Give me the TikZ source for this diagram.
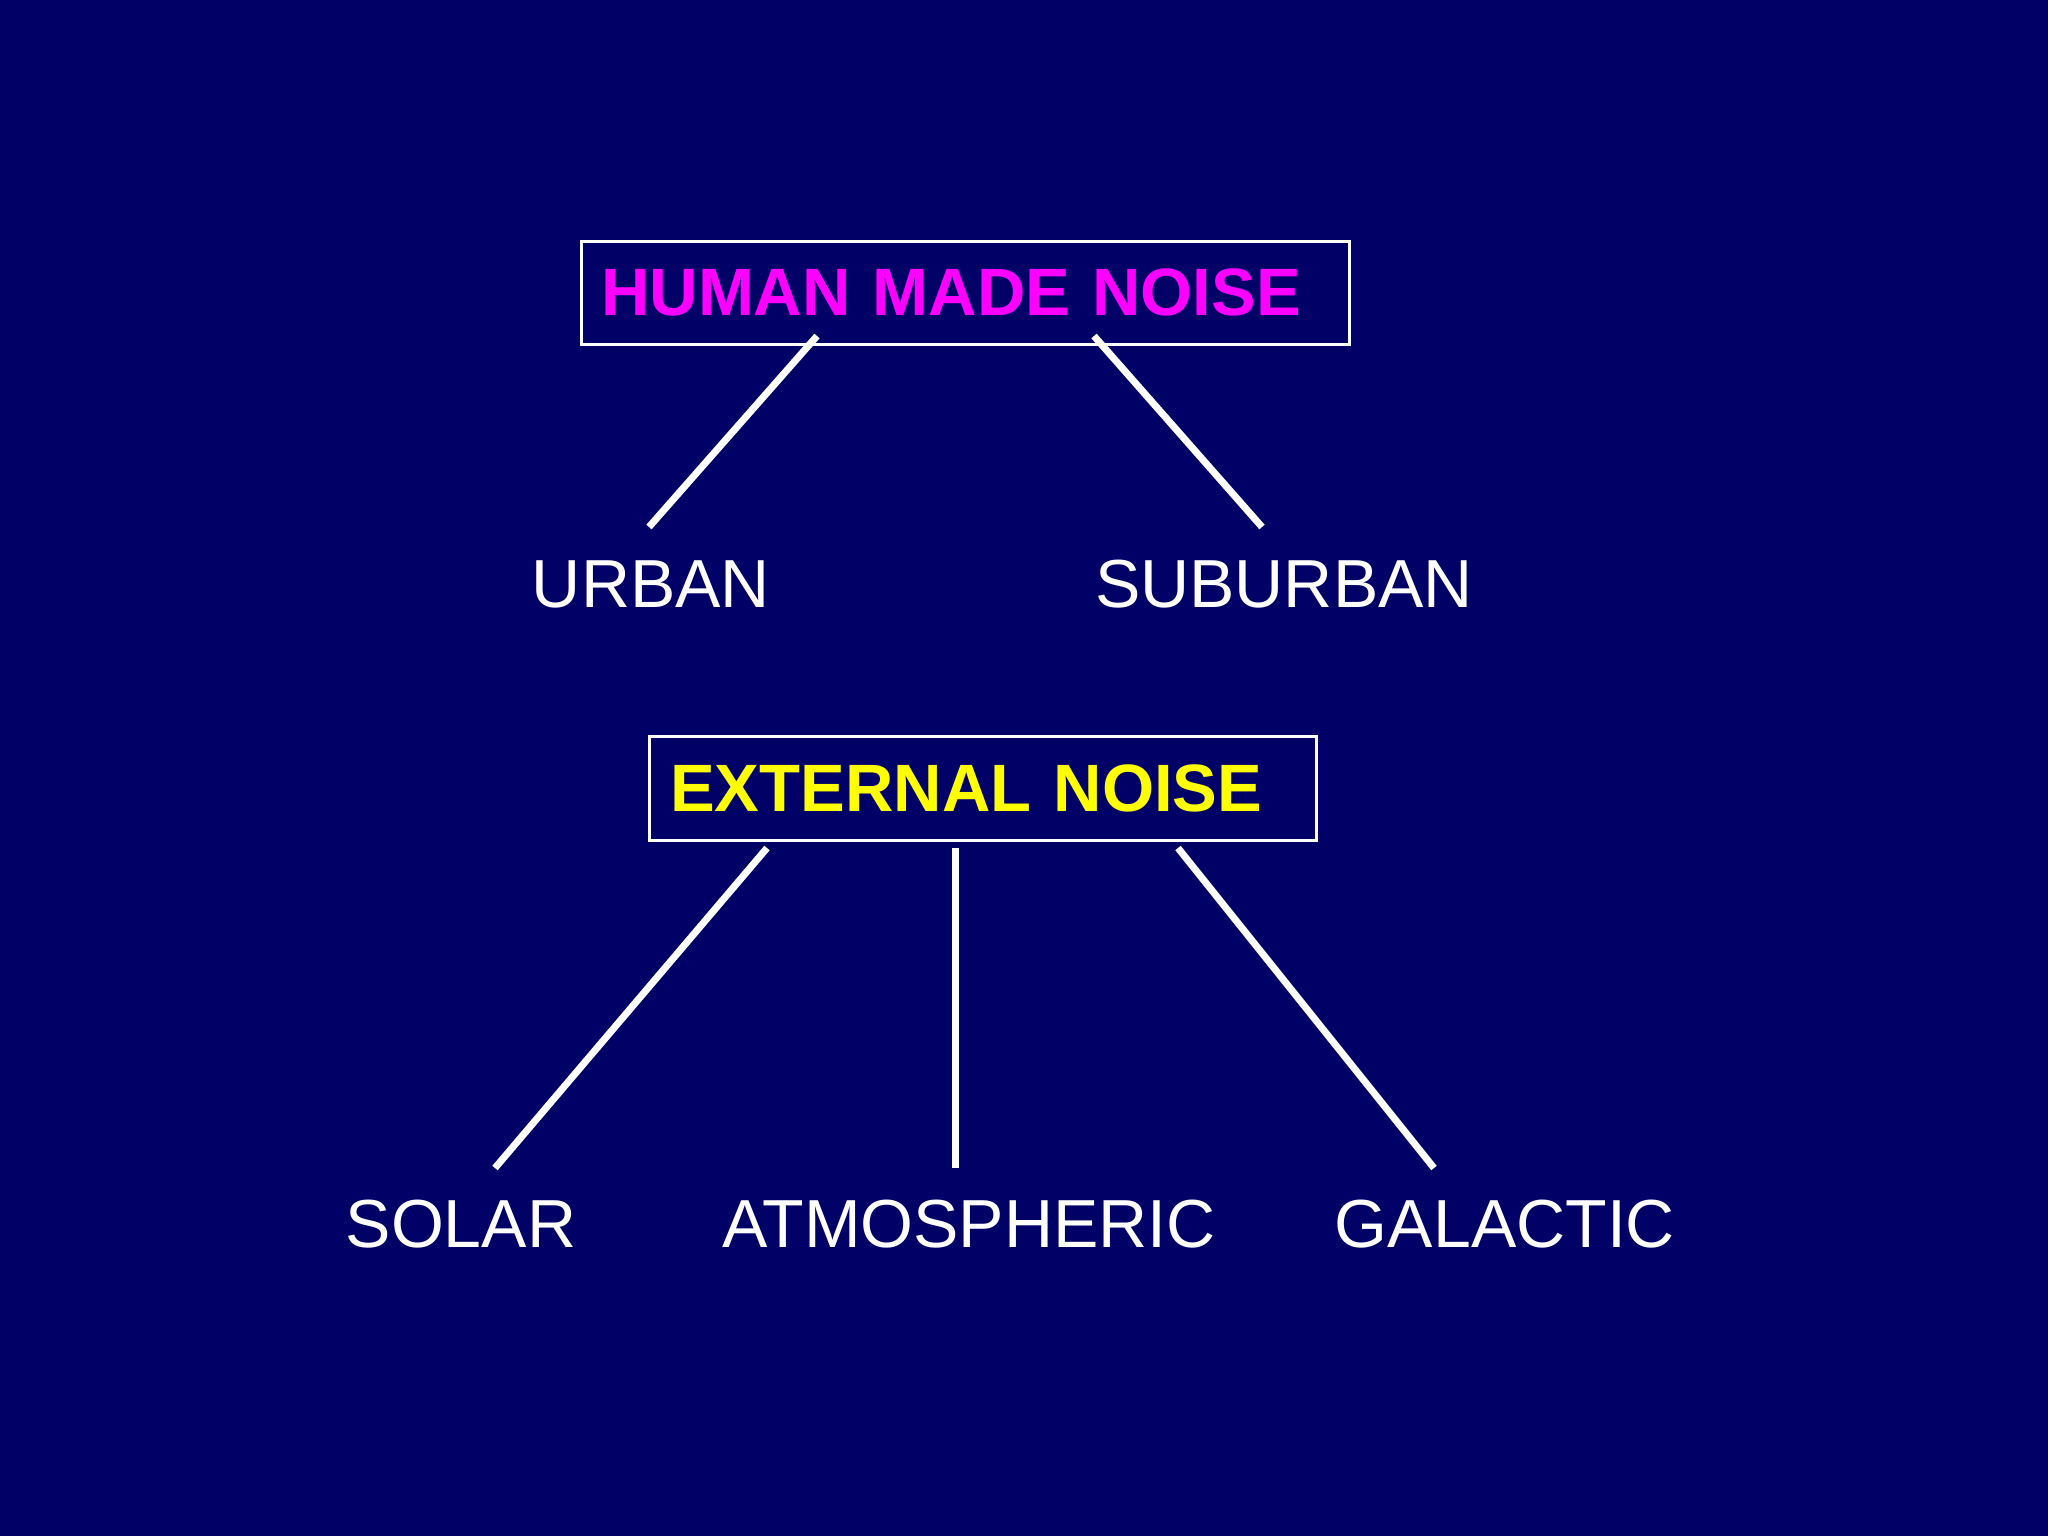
\documentclass[tikz,border=0pt]{standalone}
\usepackage{fontspec}
\setmainfont{Liberation Sans}
\definecolor{bgnavy}{RGB}{0,0,102}
\definecolor{hmagenta}{RGB}{255,0,255}
\definecolor{hyellow}{RGB}{255,255,0}
\begin{document}
\begin{tikzpicture}[x=1pt,y=-1pt,
  headbox/.style={draw=white, line width=2.5pt, rectangle, anchor=north west, inner ysep=0pt, align=left, font=\fontsize{67}{80}\selectfont\bfseries},
  leaf/.style={text=white, anchor=base, inner sep=0pt, font=\fontsize{68}{80}\selectfont},
  branch/.style={draw=white, line width=7pt}
]
\fill[bgnavy] (0,0) rectangle (2048,1536);
\useasboundingbox (0,0) rectangle (2048,1536);

\node[headbox, text=hmagenta, minimum height=103pt, inner xsep=20pt, text width=728pt] (human) at (580,240) {HUMAN MADE NOISE};
\node[headbox, text=hyellow, minimum height=104pt, inner xsep=21pt, text width=625pt] (external) at (648,735) {EXTERNAL NOISE};

\node[leaf] (urban) at (651,607) {URBAN};
\node[leaf] (suburban) at (1284,607) {SUBURBAN};
\node[leaf] (solar) at (461,1247) {SOLAR};
\node[leaf] (atmos) at (969,1247) {ATMOSPHERIC};
\node[leaf] (galactic) at (1505,1247) {GALACTIC};

\coordinate (h1) at (817,336);
\coordinate (h2) at (1094,336);
\coordinate (u1) at (649,527);
\coordinate (s1) at (1262,527);
\coordinate (e1) at (767,848);
\coordinate (e2) at (955,848);
\coordinate (e3) at (1178,848);
\coordinate (so1) at (495,1168);
\coordinate (at1) at (955,1168);
\coordinate (ga1) at (1434,1168);

\draw[branch] (h1) -- (u1);
\draw[branch] (h2) -- (s1);
\draw[branch] (e1) -- (so1);
\draw[branch] (e2) -- (at1);
\draw[branch] (e3) -- (ga1);
\end{tikzpicture}
\end{document}
